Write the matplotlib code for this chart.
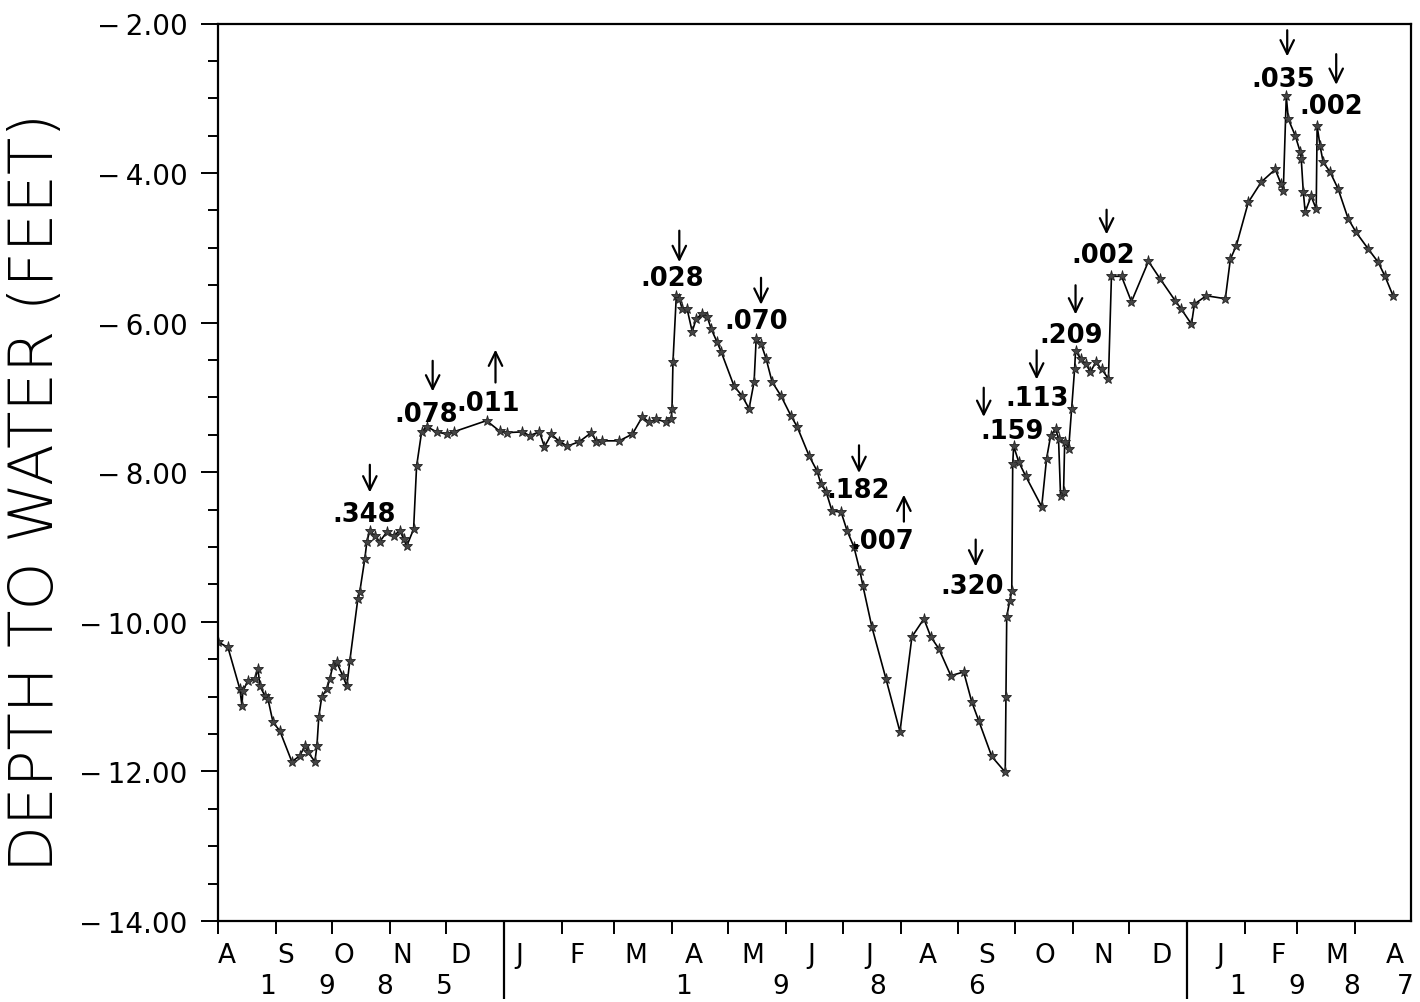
import numpy as np
import pandas as pd
import matplotlib.pyplot as plt
from matplotlib.ticker import MultipleLocator, FixedLocator, FuncFormatter

# --- datos: dias desde 1985-08-01 y profundidad al agua (pies) ---
start = pd.Timestamp('1985-08-01')
end = pd.Timestamp('1987-05-01')

day = [0, 5.3, 11.7, 12.8, 13.3, 16.0, 19.8, 21.4, 22.4, 25.1, 26.7, 29.4, 33.1,
       39.5, 43.8, 46.4, 48.1, 51.8, 52.9, 53.9, 55.5, 58.2, 59.8, 61.4, 63.5,
       66.7, 68.9, 70.5, 74.8, 75.8, 78.5, 79.6, 81.2, 83.8, 86.5, 90.2, 94.0,
       97.2, 99.3, 100.9, 104.6, 106.2, 108.9, 111.6, 116.9, 122.3, 126.0,
       143.6, 150.6, 154.8, 162.8, 166.6, 171.9, 174.6, 178.3, 182.6, 186.9,
       193.3, 199.7, 202.3, 205.6, 214.6, 221.6, 226.9, 230.7, 234.4, 239.7,
       242.4, 242.8, 243.3, 245.1, 246.7, 248.3, 250.9, 253.6, 255.7, 258.9,
       261.6, 263.7, 266.9, 269.1, 276.0, 280.3, 284.0, 286.7, 287.8, 290.4,
       293.1, 296.3, 301.1, 306.5, 309.7, 316.1, 320.3, 322.5, 325.2, 328.4,
       333.2, 336.4, 340.1, 343.3, 344.9, 349.7, 357.2, 364.7, 371.1, 377.5,
       381.2, 385.5, 391.9, 398.8, 403.1, 406.8, 413.8, 421.0, 421.4, 421.8,
       423.4, 424.5, 425.0, 425.5, 428.2, 431.9, 440.5, 443.1, 445.3, 447.9,
       449.5, 450.6, 452.2, 452.8, 454.9, 456.5, 458.1, 458.6, 461.3, 464.0,
       466.6, 469.3, 472.5, 476.2, 477.8, 483.2, 488.5, 497.6, 504.0, 512.0,
       515.2, 520.6, 522.2, 528.6, 538.7, 541.4, 544.6, 551.0, 557.9, 565.4,
       568.6, 569.7, 571.3, 572.4, 576.1, 578.8, 579.3, 580.4, 581.4, 584.6,
       587.3, 587.8, 589.4, 591.0, 594.8, 599.0, 604.4, 608.6, 615.0, 620.4,
       624.1, 628.4]

depth = [-10.27, -10.34, -10.90, -11.12, -10.92, -10.79, -10.76, -10.63, -10.86,
         -10.99, -11.03, -11.34, -11.46, -11.87, -11.79, -11.66, -11.74, -11.87,
         -11.66, -11.27, -11.00, -10.90, -10.76, -10.59, -10.54, -10.72, -10.86,
         -10.52, -9.69, -9.60, -9.16, -8.93, -8.78, -8.85, -8.93, -8.80, -8.85,
         -8.78, -8.89, -8.99, -8.76, -7.92, -7.46, -7.39, -7.46, -7.49, -7.46,
         -7.31, -7.45, -7.47, -7.46, -7.51, -7.46, -7.66, -7.49, -7.59, -7.65,
         -7.59, -7.47, -7.59, -7.58, -7.58, -7.49, -7.26, -7.33, -7.29, -7.33,
         -7.29, -7.15, -6.53, -5.64, -5.68, -5.82, -5.82, -6.12, -5.95, -5.88,
         -5.92, -6.08, -6.26, -6.39, -6.85, -6.98, -7.15, -6.79, -6.22, -6.28,
         -6.48, -6.79, -6.98, -7.25, -7.39, -7.78, -7.98, -8.16, -8.26, -8.52,
         -8.53, -8.78, -9.00, -9.32, -9.52, -10.07, -10.76, -11.47, -10.20, -9.96,
         -10.20, -10.36, -10.72, -10.67, -11.07, -11.32, -11.80, -12.01, -11.00, -9.93,
         -9.72, -9.59, -7.89, -7.65, -7.86, -8.05, -8.46, -7.82, -7.51, -7.42,
         -7.55, -8.32, -8.26, -7.59, -7.69, -7.15, -6.62, -6.38, -6.48, -6.55,
         -6.66, -6.53, -6.62, -6.75, -5.38, -5.38, -5.72, -5.18, -5.42, -5.71,
         -5.82, -6.02, -5.75, -5.64, -5.68, -5.15, -4.97, -4.39, -4.12, -3.95,
         -4.15, -4.24, -2.97, -3.28, -3.50, -3.72, -3.81, -4.25, -4.52, -4.31,
         -4.48, -3.37, -3.64, -3.85, -3.99, -4.21, -4.61, -4.79, -5.01, -5.19,
         -5.38, -5.64]

# anotaciones: etiqueta, posicion del texto (dia, prof), flecha (dia, arriba, abajo, sentido)
ann_label = ['.348', '.078', '.011', '.028', '.070', '.182', '.007', '.320',
             '.159', '.113', '.209', '.002', '.035', '.002']
ann_day = [77.9, 111.6, 144.7, 242.9, 287.8, 342.2, 355.0, 403.1,
           424.5, 437.8, 456.0, 473.6, 569.7, 595.3]
ann_depth = [-8.56, -7.22, -7.07, -5.40, -5.98, -8.24, -8.92, -9.52,
             -7.45, -7.01, -6.16, -5.09, -2.74, -3.10]
arrow_day = [81.2, 114.8, 148.4, 246.7, 290.4, 342.8, 366.8, 405.2,
             409.5, 437.8, 458.6, 475.2, 571.8, 598.0]
arrow_top = [-7.90, -6.51, -6.36, -4.77, -5.40, -7.64, -8.30, -8.90,
             -6.87, -6.37, -5.50, -4.49, -2.09, -2.41]
arrow_bot = [-8.27, -6.92, -6.80, -5.19, -5.76, -8.01, -8.66, -9.26,
             -7.26, -6.76, -5.89, -4.82, -2.44, -2.82]
arrow_up = [False, False, True, False, False, False, True, False,
            False, False, False, False, False, False]

W, H = 1420, 1003
fig = plt.figure(figsize=(W / 100, H / 100), dpi=100)
ax = fig.add_axes([218 / W, 1 - 922 / H, 1193 / W, 897.5 / H])

ax.plot(day, depth, color='black', lw=1.2, marker='*', ms=8,
        mfc='#444444', mec='#222222', mew=0.6)

# Ejes
total = (end - start).days
ax.set_xlim(0, total)
ax.set_ylim(-14, -2)
for s in ax.spines.values():
    s.set_linewidth(1.6)

month_starts = pd.date_range(start, end - pd.Timedelta(days=1), freq='MS')
month_days = [(m - start).days for m in month_starts]
year_days = [(m - start).days for m in month_starts if m.month == 1]
ax.xaxis.set_minor_locator(FixedLocator(month_days))
ax.xaxis.set_major_locator(FixedLocator(year_days))
ax.tick_params(axis='x', which='minor', direction='out', length=9, width=1.4)
ax.tick_params(axis='x', which='major', direction='out', length=56, width=1.6,
               labelbottom=False)

ax.yaxis.set_major_locator(MultipleLocator(2))
ax.yaxis.set_minor_locator(MultipleLocator(0.5))
ax.yaxis.set_major_formatter(FuncFormatter(lambda v, p: '\u2212\u2009%.2f' % abs(v)))
ax.tick_params(axis='y', which='major', direction='out', length=12, width=1.4,
               labelsize=20, pad=10)
ax.tick_params(axis='y', which='minor', direction='out', length=7, width=1.4)

# letras de los meses y digitos del año
month_letters = [m.strftime('%b')[0].upper() for m in month_starts]
for i, lab in enumerate(month_letters):
    fig.text((227 + 58.4 * i) / W, 1 - 956 / H, lab, ha='center', va='center',
             fontsize=19)

years = sorted(set(m.year for m in month_starts))
year_px = [[268, 327, 385, 444], [683, 781, 878, 976], [1237, 1297, 1352, 1405]]
for yr, xs in zip(years, year_px):
    for ch, xp in zip(str(yr), xs):
        fig.text(xp / W, 1 - 987 / H, ch, ha='center', va='center', fontsize=19)

fig.text(37 / W, 1 - 492 / H, 'DEPTH TO WATER (FEET)', rotation=90,
         ha='center', va='center', fontsize=44, fontweight='light')

# Anotaciones con flechas
for lab, tx, ty, axd, at, ab, up in zip(ann_label, ann_day, ann_depth, arrow_day,
                                        arrow_top, arrow_bot, arrow_up):
    ax.text(tx, ty, lab, ha='center', va='center', fontsize=18.5, fontweight='bold')
    if up:
        tip, tail = (axd, at), (axd, ab)
    else:
        tip, tail = (axd, ab), (axd, at)
    ax.annotate('', xy=tip, xytext=tail,
                arrowprops=dict(arrowstyle='->,head_length=0.45,head_width=0.22',
                                lw=1.6, color='black', shrinkA=0, shrinkB=0,
                                mutation_scale=22))

fig.savefig('out.png', dpi=100)
